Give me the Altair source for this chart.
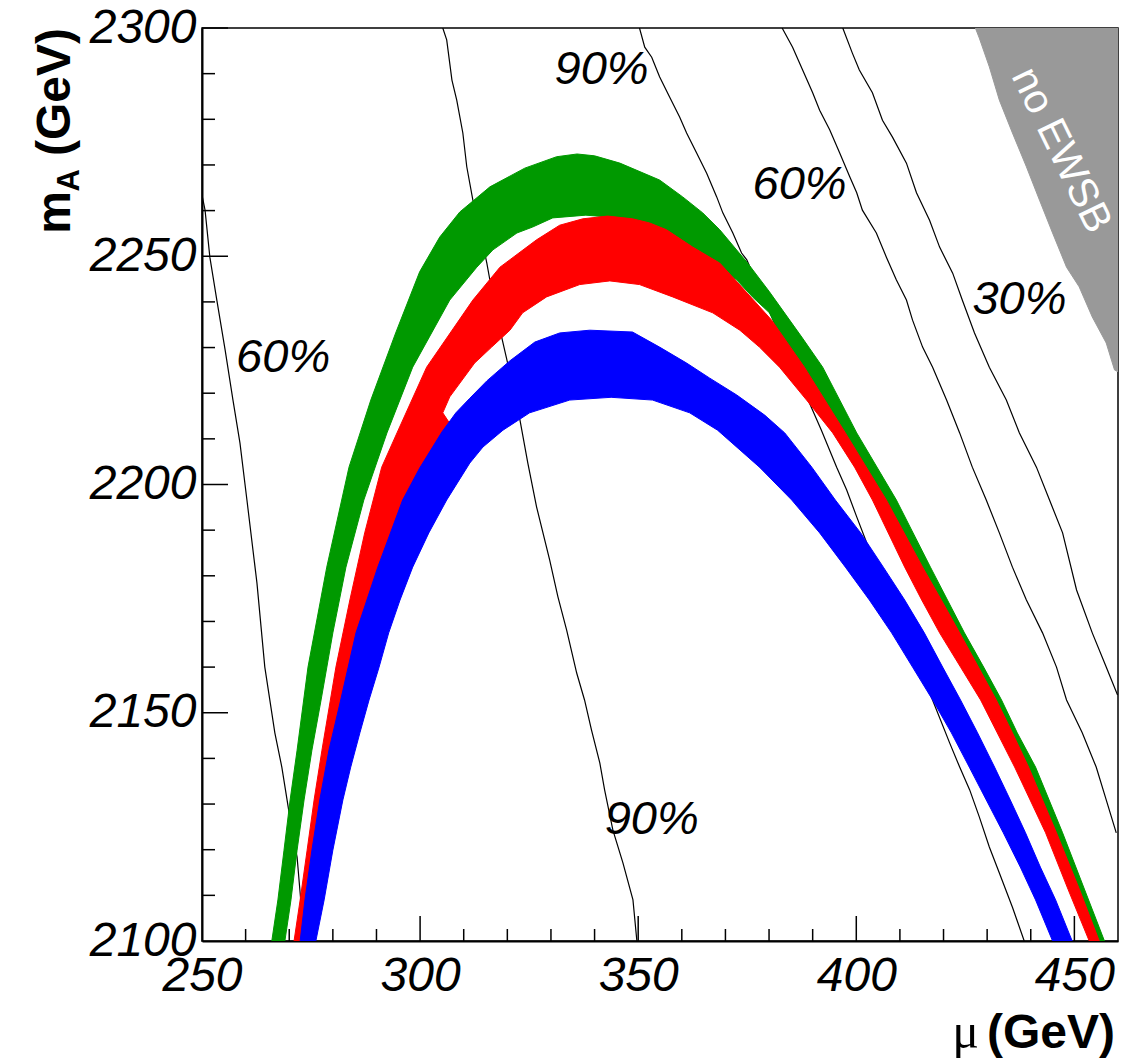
import altair as alt
import pandas as pd

# ---------------- data ----------------
# green band: outer edge (left -> right), inner edge (right -> left)
green_outer_mu = [266.0, 267.4, 268.8, 270.2, 271.8, 274.3, 278.6, 283.7, 288.7, 294.4, 299.9, 304.5, 309.1, 316.0, 324.0, 331.3, 336.0, 340.0, 345.8, 354.9, 360.2, 364.8, 368.7, 375.1, 380.1, 387.5, 392.3, 400.1, 409.2, 417.0, 420.9, 424.8, 429.2, 433.3, 436.9, 441.1, 447.3, 456.9]
green_outer_mA = [2100.0, 2109.0, 2119.9, 2130.9, 2141.8, 2160.0, 2181.9, 2203.8, 2218.5, 2233.2, 2246.6, 2254.2, 2259.7, 2265.2, 2269.3, 2271.8, 2272.4, 2272.0, 2270.4, 2266.7, 2263.0, 2259.5, 2255.8, 2248.5, 2242.2, 2232.3, 2225.7, 2211.3, 2196.6, 2181.9, 2174.7, 2167.5, 2160.0, 2152.8, 2145.6, 2138.1, 2123.7, 2100.0]
green_inner_mu = [454.6, 444.7, 438.5, 430.5, 421.8, 413.8, 405.3, 395.9, 385.9, 380.1, 376.2, 372.6, 367.1, 361.1, 353.3, 345.8, 338.0, 330.4, 325.8, 322.2, 316.7, 313.0, 306.8, 298.3, 292.4, 287.1, 283.0, 280.0, 277.3, 275.2, 273.4, 271.8, 270.4, 269.0]
green_inner_mA = [2100.0, 2123.7, 2138.1, 2152.8, 2167.5, 2181.9, 2196.6, 2211.3, 2226.2, 2237.6, 2241.1, 2244.8, 2248.5, 2252.0, 2255.8, 2258.4, 2259.0, 2258.4, 2256.4, 2255.1, 2251.4, 2247.6, 2240.4, 2225.7, 2211.3, 2196.6, 2181.9, 2167.5, 2152.8, 2141.8, 2130.9, 2119.9, 2109.0, 2100.0]

# red band
red_outer_mu = [271.1, 272.5, 274.1, 275.7, 277.5, 280.7, 283.9, 287.3, 291.2, 294.7, 301.5, 312.1, 318.3, 326.7, 332.0, 337.3, 343.0, 348.7, 352.6, 356.5, 362.5, 368.7, 373.7, 380.6, 388.1, 397.5, 406.9, 415.2, 419.5, 423.7, 428.0, 432.1, 435.8, 439.5, 445.9, 451.2, 455.7]
red_outer_mA = [2100.0, 2109.0, 2119.9, 2130.9, 2141.8, 2160.0, 2174.7, 2189.4, 2203.8, 2211.3, 2225.7, 2240.4, 2247.6, 2253.6, 2256.8, 2258.2, 2258.8, 2258.2, 2257.3, 2255.8, 2252.0, 2248.5, 2243.3, 2236.0, 2225.7, 2211.3, 2196.6, 2181.9, 2174.7, 2167.5, 2160.0, 2152.8, 2145.6, 2138.1, 2123.7, 2111.2, 2100.0]
red_inner_mu = [453.4, 448.6, 443.4, 436.3, 428.5, 423.9, 419.1, 415.0, 411.1, 403.7, 399.6, 394.6, 388.6, 382.4, 377.8, 373.3, 367.1, 357.9, 350.3, 343.5, 336.6, 329.0, 323.5, 320.6, 316.4, 312.5, 306.8, 305.2, 308.6, 305.7, 301.1, 296.0, 290.8, 286.7, 282.3, 278.2, 275.2, 274.1]
red_inner_mA = [2100.0, 2111.2, 2123.7, 2138.1, 2152.8, 2160.0, 2167.5, 2174.7, 2181.9, 2196.6, 2203.8, 2211.3, 2218.5, 2225.7, 2230.1, 2233.8, 2237.6, 2241.1, 2243.8, 2244.6, 2243.8, 2241.1, 2237.6, 2233.8, 2230.1, 2226.6, 2219.2, 2215.7, 2210.8, 2204.3, 2196.6, 2183.5, 2170.3, 2155.0, 2139.6, 2124.3, 2109.0, 2100.0]

# blue band
blue_outer_mu = [272.5, 273.6, 275.2, 277.0, 279.1, 281.8, 285.3, 290.3, 296.0, 299.9, 305.0, 308.2, 311.4, 315.3, 320.6, 326.3, 332.0, 338.9, 348.7, 354.9, 361.1, 366.4, 372.6, 379.0, 383.6, 389.8, 395.2, 401.0, 406.2, 411.1, 415.6, 419.8, 423.9, 427.8, 431.7, 435.3, 438.8, 442.2, 445.7, 449.5]
blue_outer_mA = [2100.0, 2109.0, 2119.9, 2130.9, 2141.8, 2152.8, 2167.5, 2181.9, 2196.6, 2203.6, 2211.5, 2215.7, 2218.9, 2222.7, 2227.1, 2231.2, 2233.2, 2233.8, 2233.4, 2230.1, 2226.6, 2223.3, 2219.6, 2215.2, 2211.3, 2203.8, 2196.6, 2189.4, 2181.9, 2174.7, 2167.5, 2160.0, 2152.8, 2145.6, 2138.1, 2130.9, 2123.7, 2116.2, 2109.0, 2100.0]
blue_inner_mu = [445.0, 441.1, 437.6, 433.7, 429.8, 425.9, 421.8, 417.5, 412.9, 408.1, 403.0, 397.5, 391.6, 385.2, 377.8, 368.2, 361.8, 353.3, 343.8, 334.3, 325.1, 319.0, 314.4, 311.4, 306.1, 302.0, 298.3, 295.4, 292.8, 290.6, 288.3, 286.2, 284.1, 282.3, 280.0, 278.0, 276.1]
blue_inner_mA = [2100.0, 2109.0, 2116.2, 2123.7, 2130.9, 2138.1, 2145.6, 2152.8, 2160.0, 2167.5, 2174.7, 2181.9, 2189.4, 2196.6, 2203.8, 2211.9, 2215.7, 2218.5, 2219.1, 2218.5, 2215.7, 2211.9, 2208.2, 2204.7, 2196.6, 2189.4, 2181.9, 2174.7, 2167.5, 2160.0, 2152.8, 2145.6, 2138.1, 2130.9, 2119.9, 2109.0, 2100.0]

# contour lines
lineA_mu = [250.0, 250.7, 251.8, 253.4, 255.3, 257.1, 258.7, 260.3, 262.6, 264.4, 266.7, 268.3, 269.5, 270.6, 271.8, 272.5, 273.4]
lineA_mA = [2263.4, 2260.1, 2249.8, 2240.4, 2229.5, 2218.5, 2209.1, 2196.6, 2178.4, 2160.0, 2145.6, 2138.1, 2130.9, 2124.3, 2118.4, 2110.5, 2100.0]
lineB_mu = [305.2, 306.1, 307.3, 308.4, 309.8, 310.7, 312.1, 313.7, 315.3, 316.0, 318.7, 319.9, 322.9, 324.7, 326.7, 329.7, 331.6, 333.6, 335.9, 337.7, 339.3, 341.2, 342.3, 344.2, 346.5, 348.8, 349.7]
lineB_mA = [2300.0, 2297.4, 2288.6, 2284.2, 2277.0, 2269.6, 2262.3, 2255.8, 2248.5, 2244.8, 2232.3, 2227.3, 2214.1, 2204.7, 2195.1, 2183.5, 2175.4, 2168.1, 2158.7, 2152.8, 2146.2, 2139.0, 2133.1, 2124.3, 2117.1, 2109.0, 2100.0]
lineC_mu = [350.3, 351.5, 353.1, 354.9, 357.2, 359.5, 361.1, 363.4, 365.7, 368.0, 369.4, 371.7, 373.7, 374.9, 392.0, 395.5, 397.8, 400.1, 402.4, 405.3, 418.4, 421.4, 423.7, 426.0, 428.2, 430.5, 432.8, 435.8, 438.5]
lineC_mA = [2300.0, 2295.8, 2293.6, 2289.3, 2284.9, 2280.5, 2277.0, 2272.6, 2268.2, 2263.0, 2259.5, 2255.1, 2250.7, 2249.2, 2211.9, 2203.8, 2198.8, 2192.9, 2187.2, 2181.9, 2150.6, 2143.4, 2138.1, 2133.1, 2127.2, 2120.6, 2114.9, 2107.4, 2100.0]
lineD_mu = [383.0, 385.4, 387.7, 390.0, 391.6, 393.9, 396.2, 398.5, 400.1, 401.4, 404.6, 406.9, 409.2, 411.5, 412.9, 415.2, 417.5, 420.7, 423.7, 426.6, 429.8, 432.8, 435.8, 439.0, 442.7, 445.9, 448.2, 451.8, 455.0, 457.3, 459.6]
lineD_mA = [2300.0, 2295.8, 2290.8, 2285.8, 2282.0, 2277.7, 2272.6, 2267.4, 2263.9, 2260.1, 2255.1, 2249.8, 2244.8, 2240.4, 2236.0, 2230.1, 2225.7, 2218.5, 2211.3, 2203.8, 2196.6, 2189.4, 2181.9, 2174.7, 2167.5, 2160.0, 2152.8, 2145.6, 2138.1, 2130.9, 2123.7]
lineE_mu = [396.9, 399.1, 400.7, 403.7, 406.0, 408.3, 411.5, 413.8, 416.8, 419.1, 422.1, 424.3, 427.1, 430.5, 434.4, 437.4, 441.3, 444.3, 447.3, 450.5, 454.1, 457.3, 459.9]
lineE_mA = [2300.0, 2294.5, 2290.8, 2285.8, 2279.8, 2276.1, 2270.4, 2263.9, 2257.9, 2252.0, 2246.3, 2240.4, 2233.2, 2225.7, 2218.5, 2211.3, 2203.8, 2196.6, 2189.4, 2176.9, 2167.5, 2160.0, 2153.9]

# "no EWSB" region
ewsb_mu = [427.3, 428.2, 430.5, 432.8, 435.8, 439.0, 442.0, 445.0, 448.2, 451.1, 454.1, 457.3, 459.2, 460.0, 460.0]
ewsb_mA = [2300.0, 2297.8, 2291.5, 2284.2, 2277.0, 2269.6, 2262.3, 2255.1, 2247.6, 2243.3, 2236.7, 2231.0, 2225.1, 2224.7, 2300.0]

# contour labels
label_text = ["90%", "60%", "30%", "60%", "90%"]
label_mu = [341.6, 387.0, 437.4, 268.6, 353.1]
label_mA = [2290.8, 2265.6, 2240.4, 2227.7, 2126.5]

ewsb_text = ["no EWSB"]
ewsb_text_mu = [446.9]
ewsb_text_mA = [2273.2]

# axes
x_labels = [250, 300, 350, 400, 450]
y_labels = [2100, 2150, 2200, 2250, 2300]
x_tick_minor = [260, 270, 280, 290, 310, 320, 330, 340, 360, 370, 380, 390, 410, 420, 430, 440]
x_tick_major = [300, 350, 400, 450]
y_tick_minor = [2110, 2120, 2130, 2140, 2160, 2170, 2180, 2190, 2210, 2220, 2230, 2240, 2260, 2270, 2280, 2290]
y_tick_major = [2150, 2200, 2250, 2300]

# ---------------- chart ----------------
W, H = 916, 913
FONT = "Liberation Sans"
XS = alt.Scale(domain=[250, 460], nice=False, zero=False)
YS = alt.Scale(domain=[2100, 2300], nice=False, zero=False)
X_AXIS = alt.Axis(values=x_labels, title=None, ticks=False, grid=False, domain=True,
                  domainColor="black", domainWidth=2, labelFont=FONT, labelFontStyle="italic",
                  labelFontSize=48, labelColor="black", labelPadding=11, labelFlush=False,
                  labelOverlap=False, format="d")
Y_AXIS = alt.Axis(values=y_labels, title=None, ticks=False, grid=False, domain=True,
                  domainColor="black", domainWidth=2, labelFont=FONT, labelFontStyle="italic",
                  labelFontSize=48, labelColor="black", labelPadding=6, labelFlush=False,
                  labelOverlap=False, format="d")


def X(f):
    return alt.X(f"{f}:Q", scale=XS, axis=X_AXIS)


def Y(f):
    return alt.Y(f"{f}:Q", scale=YS, axis=Y_AXIS)


def polygon(omu, omA, imu, imA):
    mu = omu + imu
    mA = omA + imA
    return pd.DataFrame({"mu": mu, "mA": mA, "i": list(range(len(mu)))})


def band(df, color):
    return alt.Chart(df).mark_line(fill=color, stroke=color, strokeWidth=1, clip=True).encode(
        x=X("mu"), y=Y("mA"), order=alt.Order("i:Q"))


ewsb_df = pd.DataFrame({"mu": ewsb_mu, "mA": ewsb_mA, "i": list(range(len(ewsb_mu)))})
ewsb_layer = alt.Chart(ewsb_df).mark_line(fill="#999999", stroke="#999999", strokeWidth=1, clip=True).encode(
    x=X("mu"), y=Y("mA"), order=alt.Order("i:Q"))

rows = []
for name, mus, mas in [("A", lineA_mu, lineA_mA), ("B", lineB_mu, lineB_mA), ("C", lineC_mu, lineC_mA),
                       ("D", lineD_mu, lineD_mA), ("E", lineE_mu, lineE_mA)]:
    for k, (a, b) in enumerate(zip(mus, mas)):
        rows.append({"line": name, "mu": a, "mA": b, "i": k})
lines_df = pd.DataFrame(rows)
lines_layer = alt.Chart(lines_df).mark_line(color="black", strokeWidth=1.2, clip=True).encode(
    x=X("mu"), y=Y("mA"), detail="line:N", order=alt.Order("i:Q"))

green = band(polygon(green_outer_mu, green_outer_mA, green_inner_mu, green_inner_mA), "#009900")
red = band(polygon(red_outer_mu, red_outer_mA, red_inner_mu, red_inner_mA), "#ff0000")
blue = band(polygon(blue_outer_mu, blue_outer_mA, blue_inner_mu, blue_inner_mA), "#0000ff")

labels_df = pd.DataFrame({"t": label_text, "mu": label_mu, "mA": label_mA})
labels_layer = alt.Chart(labels_df).mark_text(font=FONT, fontStyle="italic", fontSize=47, color="black",
                                              align="center", baseline="middle").encode(
    x=X("mu"), y=Y("mA"), text="t:N")

ewsb_txt_df = pd.DataFrame({"t": ewsb_text, "mu": ewsb_text_mu, "mA": ewsb_text_mA})
ewsb_txt = alt.Chart(ewsb_txt_df).mark_text(font=FONT, fontSize=41, color="white", angle=64,
                                            align="center", baseline="middle").encode(
    x=X("mu"), y=Y("mA"), text="t:N")

xt_minor = alt.Chart(pd.DataFrame({"v": x_tick_minor})).mark_rule(color="black", strokeWidth=1.5).encode(
    x=X("v"), y=alt.value(H), y2=alt.value(H - 12))
xt_major = alt.Chart(pd.DataFrame({"v": x_tick_major})).mark_rule(color="black", strokeWidth=1.5).encode(
    x=X("v"), y=alt.value(H), y2=alt.value(H - 25))
yt_minor = alt.Chart(pd.DataFrame({"v": y_tick_minor})).mark_rule(color="black", strokeWidth=1.5).encode(
    y=Y("v"), x=alt.value(0), x2=alt.value(13))
yt_major = alt.Chart(pd.DataFrame({"v": y_tick_major})).mark_rule(color="black", strokeWidth=1.5).encode(
    y=Y("v"), x=alt.value(0), x2=alt.value(26))

# axis titles (ROOT style, with subscript)
ytitle_geV = alt.Chart(pd.DataFrame({"t": ["(GeV)"]})).mark_text(
    font=FONT, fontWeight="bold", fontSize=48, angle=270, align="right", baseline="alphabetic", color="black"
).encode(x=alt.value(-132), y=alt.value(0), text="t:N")
ytitle_sub = alt.Chart(pd.DataFrame({"t": ["A"]})).mark_text(
    font=FONT, fontWeight="bold", fontSize=31, angle=270, align="right", baseline="alphabetic", color="black"
).encode(x=alt.value(-123), y=alt.value(141), text="t:N")
ytitle_m = alt.Chart(pd.DataFrame({"t": ["m"]})).mark_text(
    font=FONT, fontWeight="bold", fontSize=48, angle=270, align="right", baseline="alphabetic", color="black"
).encode(x=alt.value(-132), y=alt.value(163), text="t:N")
xtitle_geV = alt.Chart(pd.DataFrame({"t": ["(GeV)"]})).mark_text(
    font=FONT, fontWeight="bold", fontSize=48, align="right", baseline="alphabetic", color="black"
).encode(x=alt.value(913), y=alt.value(1020), text="t:N")
xtitle_mu = alt.Chart(pd.DataFrame({"t": ["μ"]})).mark_text(
    font="Liberation Serif", fontSize=50, align="right", baseline="alphabetic", color="black"
).encode(x=alt.value(777), y=alt.value(1020), text="t:N")

chart = alt.layer(
    ewsb_layer, lines_layer, green, red, blue, labels_layer, ewsb_txt,
    xt_minor, xt_major, yt_minor, yt_major,
    ytitle_geV, ytitle_sub, ytitle_m, xtitle_geV, xtitle_mu
).properties(
    width=W, height=H,
    autosize=alt.AutoSizeParams(type="none"),
    padding={"left": 202, "top": 28, "right": 3, "bottom": 117},
    background="white",
).configure_view(stroke="black", strokeWidth=1.5)

chart.save("out.html", embed_options={"renderer": "svg", "actions": False})
